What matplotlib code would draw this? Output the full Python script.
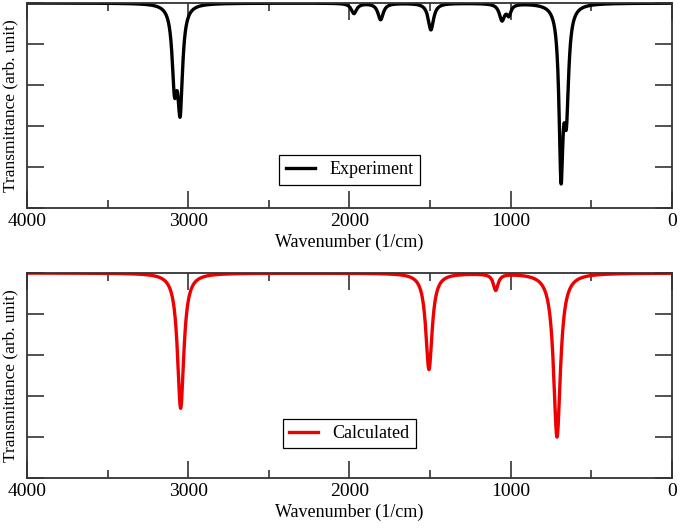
import numpy as np
import matplotlib
matplotlib.use('Agg')
import matplotlib.pyplot as plt
from matplotlib.ticker import MultipleLocator, NullFormatter

plt.rcParams['font.family'] = ['Liberation Serif', 'DejaVu Serif']

# Bandas (posicion cm-1, profundidad, semiancho)
exp_pos = [3085, 3050, 1972, 1807, 1495, 1054, 1011, 688, 655]
exp_amp = [0.36, 0.48, 0.05, 0.08, 0.13, 0.08, 0.05, 0.78, 0.48]
exp_hw = [18, 18, 20, 20, 20, 20, 15, 15, 17]

calc_pos = [3047, 1507, 1093, 713]
calc_amp = [0.66, 0.47, 0.08, 0.80]
calc_hw = [24, 24, 18, 26]

wn = np.linspace(0, 4000, 8001)


def espectro(pos, amp, hw):
    t = np.ones_like(wn)
    for p, a, w in zip(pos, amp, hw):
        t -= a * w**2 / ((wn - p)**2 + w**2)
    return t


fig = plt.figure(figsize=(6.85, 5.3), dpi=100)
ax1 = fig.add_axes([0.0394, 0.6075, 0.9416, 0.3868])
ax2 = fig.add_axes([0.0394, 0.0981, 0.9416, 0.3868])

datos = [(ax1, espectro(exp_pos, exp_amp, exp_hw), 'black', 'Experiment'),
         (ax2, espectro(calc_pos, calc_amp, calc_hw), '#ee0000', 'Calculated')]

for ax, t, color, nombre in datos:
    ax.plot(wn, t, color=color, lw=2.4, label=nombre)
    ax.set_xlim(4000, 0)
    ax.set_ylim(0, 1)
    ax.xaxis.set_major_locator(MultipleLocator(1000))
    ax.xaxis.set_minor_locator(MultipleLocator(500))
    ax.yaxis.set_major_locator(MultipleLocator(0.2))
    ax.yaxis.set_major_formatter(NullFormatter())
    ax.tick_params(which='both', direction='in', top=True, right=True,
                   color='#333333', width=1.2)
    ax.tick_params(which='major', length=12, labelsize=14)
    ax.tick_params(which='minor', length=6)
    for s in ax.spines.values():
        s.set_color('#333333')
        s.set_linewidth(1.3)
    ax.set_xlabel('Wavenumber (1/cm)', fontsize=13, labelpad=3)
    ax.set_ylabel('Transmittance (arb. unit)', fontsize=12.5, labelpad=3)
    leg = ax.legend(loc='lower center', bbox_to_anchor=(0.5, 0.1),
                    fontsize=13, fancybox=False, edgecolor='black',
                    handlelength=1.6, borderpad=0.35, framealpha=1)
    leg.get_frame().set_linewidth(0.9)

leg1 = ax1.get_legend()
leg1.set_bbox_to_anchor((0.5, 0.07))

fig.savefig('out.png', dpi=100)
